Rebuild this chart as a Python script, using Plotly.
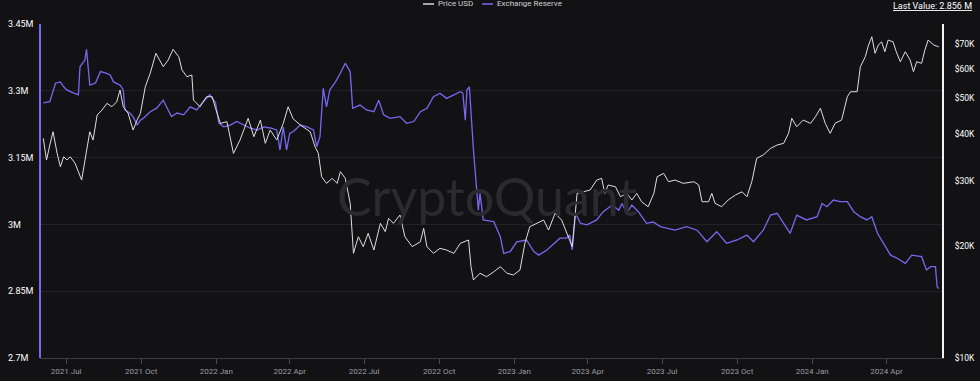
import pandas as pd
import plotly.graph_objects as go

# ---- data ----
start = pd.Timestamp("2021-07-01")

reserve_days = [-28,-20,-13,-7,-3,1,5,15,17,23,
                25,29,36,42,48,54,58,66,70,72,
                78,82,87,91,95,103,111,119,123,129,
                136,144,152,160,168,176,183,187,193,201,
                209,217,225,234,242,250,258,262,266,270,
                274,278,287,295,303,307,311,315,319,323,
                330,336,342,348,351,360,368,377,383,389,
                397,409,417,426,434,442,450,458,466,475,
                483,486,489,491,494,499,503,505,507,511,
                524,532,536,544,552,564,573,579,589,601,
                605,613,617,620,624,630,638,650,658,669,
                677,681,687,693,701,711,719,728,736,746,
                760,773,785,797,809,822,834,842,854,863,
                871,879,887,895,907,920,926,932,940,948,
                957,965,973,981,987,994,1001,1010,1018,1028,
                1036,1048,1054,1059,1065,1067,1069]
reserve_m = [3.273,3.2755,3.317,3.320,3.309,3.302,3.298,3.291,3.354,3.369,
             3.393,3.313,3.3175,3.343,3.340,3.3355,3.320,3.313,3.302,3.257,
             3.250,3.242,3.223,3.234,3.239,3.253,3.261,3.279,3.264,3.242,
             3.250,3.246,3.264,3.257,3.2755,3.291,3.273,3.228,3.219,3.223,
             3.231,3.223,3.2165,3.212,3.219,3.2165,3.212,3.167,3.219,3.167,
             3.205,3.208,3.223,3.219,3.212,3.1745,3.197,3.3056,3.264,3.302,
             3.320,3.340,3.362,3.343,3.2607,3.268,3.257,3.253,3.279,3.246,
             3.238,3.242,3.227,3.231,3.253,3.2607,3.2868,3.2944,3.283,3.291,
             3.298,3.295,3.234,3.302,3.309,3.167,3.070,3.032,3.070,3.010,
             3.006,2.972,2.935,2.939,2.961,2.965,2.939,2.931,2.9425,2.961,
             2.969,2.969,2.976,2.9425,3.025,3.0025,2.999,3.010,3.0285,3.0436,
             3.032,3.047,3.025,3.0436,3.0285,3.0025,3.0054,2.995,2.991,2.987,
             2.995,2.987,2.961,2.9836,2.9576,2.965,2.976,2.961,2.987,3.021,
             3.025,3.0025,2.980,3.021,3.010,3.0173,3.047,3.0398,3.0548,3.051,
             3.051,3.0285,3.0173,3.010,3.0173,2.980,2.9576,2.931,2.924,2.9126,
             2.931,2.9275,2.8976,2.905,2.905,2.860,2.856]

price_days = [-28,-24,-20,-16,-11,-7,-3,1,5,11,
              19,25,29,33,38,44,50,56,62,66,
              70,76,82,87,91,97,103,110,119,125,
              131,138,142,148,154,156,164,172,179,183,
              189,197,205,213,223,230,238,244,250,258,
              266,272,278,287,299,305,309,313,319,326,
              332,336,342,348,352,358,364,370,377,385,
              391,395,401,409,415,424,434,438,442,450,
              458,466,475,483,489,493,496,499,507,515,
              524,532,540,548,556,562,568,577,585,591,
              599,607,613,620,626,634,642,650,656,660,
              664,673,679,687,693,699,705,713,720,724,
              732,738,746,756,769,775,779,787,791,795,
              803,811,820,828,834,840,846,854,863,871,
              879,885,889,895,903,912,918,924,930,936,
              942,950,957,961,969,973,979,983,987,991,
              995,999,1003,1007,1013,1017,1022,1028,1034,1038,
              1042,1048,1052,1056,1063,1069]
price_usd = [38960,34070,37370,40580,35490,32680,34760,34070,34760,33380,
             30090,35490,40580,38550,45000,46420,48380,47370,48870,52530,
             47370,45480,41010,43630,45480,53620,58260,65950,60690,63260,
             67590,64550,59460,57050,57660,49380,47370,50410,50410,46910,
             42740,43180,35490,38550,44090,39350,43630,37770,41010,38550,
             42740,47370,44000,42290,40580,36980,35490,30710,29480,30410,
             29480,31690,30410,26050,19120,21190,19920,21640,19510,23020,
             21860,23740,23020,24240,21190,19920,20540,22320,19920,19120,
             19720,19510,19120,20340,20540,20760,17600,16210,16900,16540,
             17060,17600,16900,16720,17240,20340,22540,23020,23500,22080,
             24490,23500,21860,19920,27710,27990,28290,30090,30410,27710,
             29180,28870,27140,27710,26590,27710,26310,25510,27710,30710,
             31370,29780,30090,29480,29780,29180,26310,26310,27710,26050,
             25510,26590,27430,27990,27140,29780,34430,35140,36620,37370,
             37770,40180,44090,41850,43630,42740,44530,46910,42740,40180,
             42740,43630,50410,51990,51990,60690,64550,69400,73060,65950,
             69400,70830,66600,71570,70830,66600,62590,66600,63260,58830,
             62590,61980,67290,71570,69400,68670]

reserve_ticks = [2.7, 2.85, 3.0, 3.15, 3.3, 3.45]
reserve_labels = ["2.7M", "2.85M", "3M", "3.15M", "3.3M", "3.45M"]
price_ticks = [10000, 20000, 30000, 40000, 50000, 60000, 70000]
price_labels = ["$10K", "$20K", "$30K", "$40K", "$50K", "$60K", "$70K"]
series_names = ["Price USD", "Exchange Reserve"]
last_value = "2.856 M"

assert len(reserve_days) == len(reserve_m)
assert len(price_days) == len(price_usd)

reserve_dates = start + pd.to_timedelta(reserve_days, unit="D")
price_dates = start + pd.to_timedelta(price_days, unit="D")

BG = "#121215"
PURPLE = "#7868f0"
WHITE = "#dedede"
FONT = "Roboto"

fig = go.Figure()
fig.add_trace(go.Scatter(x=price_dates, y=price_usd, name=series_names[0], mode="lines",
                         line=dict(color=WHITE, width=1), yaxis="y2"))
fig.add_trace(go.Scatter(x=reserve_dates, y=reserve_m, name=series_names[1], mode="lines",
                         line=dict(color=PURPLE, width=1.3), yaxis="y"))

W_PLOT, H_PLOT, L, T = 938, 334, 4, 24


def px(xpix):
    return (xpix - L) / W_PLOT


def py(ypix):
    return (T + H_PLOT - ypix) / H_PLOT


x0 = px(40)  # start of x domain in paper coords
leg_y = py(4)

fig.update_layout(
    width=980, height=381,
    margin=dict(l=L, r=980 - L - W_PLOT, t=T, b=381 - T - H_PLOT, autoexpand=False),
    paper_bgcolor=BG, plot_bgcolor=BG,
    font=dict(family=FONT, color="#ffffff"),
    showlegend=False,
    hovermode=False,
    xaxis=dict(domain=[x0, 1], anchor="y", type="date", automargin=False,
               range=["2021-05-30", "2024-06-08"],
               tick0="2021-07-01", dtick="M3", tickformat="%Y %b",
               ticks="outside", ticklen=5, tickcolor="#4a4a50",
               showline=True, linecolor="#3c3c42", linewidth=1,
               showgrid=False, zeroline=False,
               tickfont=dict(size=8, color="#9a9aa0", family=FONT)),
    yaxis=dict(anchor="free", position=0, side="left", automargin=False,
               range=[2.7, 3.45], tickvals=reserve_ticks, ticktext=reserve_labels,
               ticklabelposition="inside", ticklabeloverflow="allow",
               showline=False, ticks="", showgrid=True, gridcolor="#222226", gridwidth=1,
               zeroline=False, tickfont=dict(size=9, color="#ffffff", family=FONT)),
    yaxis2=dict(anchor="x", overlaying="y", side="right", type="log", automargin=False,
                range=[4, 4.898], tickvals=price_ticks, ticktext=price_labels,
                showline=True, linecolor="#f2f2f2", linewidth=2,
                ticks="", ticklabelstandoff=9, showgrid=False, zeroline=False,
                tickfont=dict(size=8.5, color="#ffffff", family=FONT)),
    shapes=[
        dict(type="line", xref="paper", yref="paper", x0=x0, x1=x0, y0=0, y1=1,
             line=dict(color=PURPLE, width=2)),
        # legend glyphs
        dict(type="line", xref="paper", yref="paper", x0=px(423), x1=px(434),
             y0=leg_y, y1=leg_y, line=dict(color="#d8d8d8", width=1.5)),
        dict(type="line", xref="paper", yref="paper", x0=px(482), x1=px(493),
             y0=leg_y, y1=leg_y, line=dict(color=PURPLE, width=1.5)),
    ],
    annotations=[
        dict(text="CryptoQuant", xref="paper", yref="paper", x=px(487), y=py(196),
             xanchor="center", yanchor="middle", showarrow=False,
             font=dict(size=52, color="#2a2a2f", family="Lato")),
        dict(text=series_names[0], xref="paper", yref="paper", x=px(436), y=leg_y,
             xanchor="left", yanchor="middle", showarrow=False,
             font=dict(size=8, color="#d0d0d0", family=FONT)),
        dict(text=series_names[1], xref="paper", yref="paper", x=px(495), y=leg_y,
             xanchor="left", yanchor="middle", showarrow=False,
             font=dict(size=8, color="#d0d0d0", family=FONT)),
        dict(text="<u>Last Value: " + last_value + "</u>", xref="paper", yref="paper",
             x=px(974), y=py(6), xanchor="right", yanchor="middle",
             showarrow=False, font=dict(size=9, color="#ffffff", family=FONT)),
    ],
)

page_js = ("document.body.style.margin='0';document.body.style.padding='0';"
           "document.body.style.overflow='hidden';document.body.style.background='" + BG + "';")
fig.write_html("out.html", post_script=page_js, config={"displayModeBar": False})
